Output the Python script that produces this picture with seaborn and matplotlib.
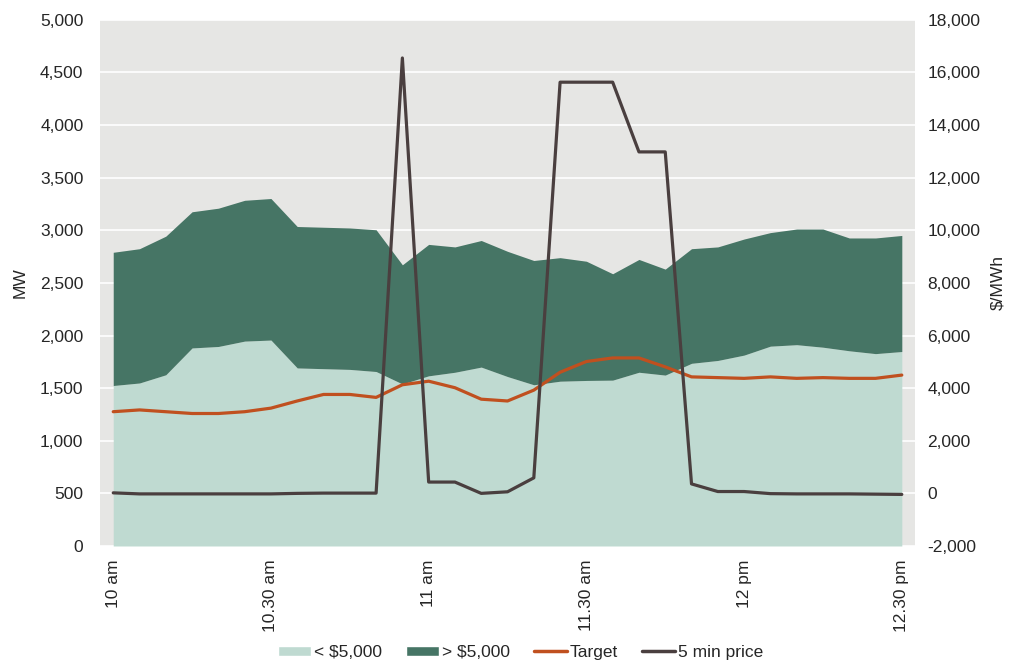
import numpy as np
import pandas as pd
import matplotlib
matplotlib.use("Agg")
import matplotlib.pyplot as plt
import seaborn as sns
from matplotlib.patches import Patch
from matplotlib.lines import Line2D

# ---- data (5-minute intervals, 10:00 to 12:30) ----
interval = list(range(31))
below_5000 = [1525, 1549, 1627, 1882, 1896, 1947, 1957, 1692, 1685, 1678,
              1658, 1540, 1617, 1651, 1700, 1610, 1532, 1566, 1573, 1576,
              1651, 1624, 1736, 1763, 1814, 1899, 1913, 1889, 1855, 1828, 1848]
total_offer = [2791, 2825, 2944, 3176, 3210, 3285, 3302, 3036, 3029, 3022,
               3005, 2672, 2866, 2842, 2903, 2800, 2713, 2740, 2706, 2587,
               2723, 2631, 2825, 2842, 2917, 2978, 3012, 3012, 2927, 2927, 2951]
above_5000 = [t - b for t, b in zip(total_offer, below_5000)]
target = [1276, 1293, 1276, 1259, 1259, 1276, 1310, 1378, 1440, 1440,
          1412, 1532, 1566, 1504, 1395, 1378, 1481, 1651, 1753, 1787,
          1787, 1702, 1607, 1600, 1593, 1607, 1593, 1600, 1593, 1593, 1624]
price = [20, -20, -20, -20, -20, -20, -20, 0, 10, 10,
         10, 16550, 430, 430, 0, 60, 590, 15630, 15630, 15630,
         12980, 12980, 360, 70, 70, -10, -20, -20, -20, -30, -40]
tick_pos = [0, 6, 12, 18, 24, 30]
tick_labels = ["10 am", "10.30 am", "11 am", "11.30 am", "12 pm", "12.30 pm"]

df = pd.DataFrame({"i": interval, "target": target, "price": price})

c_light = "#BFDAD1"
c_dark = "#467565"
c_target = "#C0501F"
c_price = "#4A3F3F"
bg = "#E6E6E4"
txt = "#262626"
fs = 12.5

sns.set_theme(style="white")
plt.rcParams["font.family"] = ["Liberation Sans", "DejaVu Sans"]

fig = plt.figure(figsize=(10.11, 6.61), dpi=100)
ax = fig.add_axes([0.099, 0.174, 0.806, 0.796])
ax.set_facecolor(bg)

ax.stackplot(interval, below_5000, above_5000, colors=[c_light, c_dark], linewidth=0, zorder=2)
sns.lineplot(data=df, x="i", y="target", ax=ax, color=c_target, linewidth=2.3, zorder=3)

ax.set_xlim(-0.5, 30.5)
ax.set_ylim(0, 5000)
ax.set_yticks(np.arange(0, 5001, 500))
ax.set_yticklabels([f"{v:,}" for v in range(0, 5001, 500)])
ax.yaxis.grid(True, color="white", linewidth=1.2, zorder=1)
ax.set_axisbelow(True)
ax.set_xticks(tick_pos)
ax.set_xticklabels(tick_labels, rotation=90)
ax.set_xlabel("")
ax.set_ylabel("MW", fontsize=fs, color=txt)
ax.yaxis.set_label_coords(-0.089, 0.5)
ax.tick_params(axis="y", length=0, labelsize=fs, colors=txt, pad=12)
ax.tick_params(axis="x", length=0, labelsize=fs, colors=txt, pad=10)
for s in ax.spines.values():
    s.set_visible(False)

ax2 = ax.twinx()
sns.lineplot(data=df, x="i", y="price", ax=ax2, color=c_price, linewidth=2.3, zorder=4)
ax2.set_ylim(-2000, 18000)
ax2.set_yticks(np.arange(-2000, 18001, 2000))
ax2.set_yticklabels([f"{v:,}" for v in range(-2000, 18001, 2000)])
ax2.set_ylabel("$/MWh", fontsize=fs, color=txt)
ax2.yaxis.set_label_coords(1.093, 0.5)
ax2.tick_params(axis="both", length=0, labelsize=fs, colors=txt, pad=9)
ax2.grid(False)
for s in ax2.spines.values():
    s.set_visible(False)
ax2.set_xlim(-0.5, 30.5)

handles = [Patch(facecolor=c_light, label="< $5,000"),
           Patch(facecolor=c_dark, label="> $5,000"),
           Line2D([0], [0], color=c_target, lw=2.5, label="Target"),
           Line2D([0], [0], color=c_price, lw=2.5, label="5 min price")]
leg = fig.legend(handles=handles, loc="lower center", bbox_to_anchor=(0.515, -0.022), ncol=4,
                 frameon=False, fontsize=fs, handlelength=1.9, handleheight=0.5,
                 handletextpad=0.15, columnspacing=1.4)
for t in leg.get_texts():
    t.set_color(txt)

fig.savefig("out.png", dpi=100)
